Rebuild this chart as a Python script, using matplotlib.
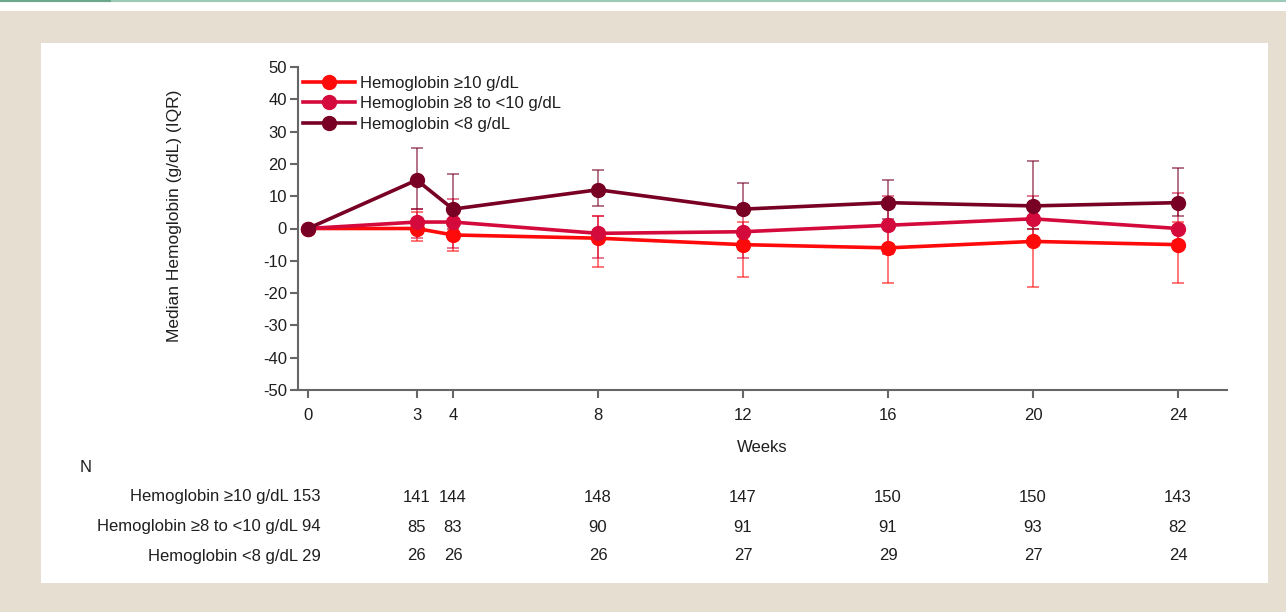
import matplotlib
matplotlib.use("Agg")
import matplotlib.pyplot as plt
import matplotlib.transforms as mtransforms
from matplotlib.patches import Rectangle
from matplotlib.lines import Line2D
import numpy as np

plt.rcParams['font.family'] = ['Liberation Sans', 'DejaVu Sans']

weeks = [0, 3, 4, 8, 12, 16, 20, 24]
series_labels = ["Hemoglobin \u226510 g/dL", "Hemoglobin \u22658 to <10 g/dL", "Hemoglobin <8 g/dL"]
colors = ["#ff0a0a", "#d40a3c", "#780024"]

med_hi = [0, 0, -2, -3, -5, -6, -4, -5]
lo_hi = [0, -4, -7, -12, -15, -17, -18, -17]
up_hi = [0, 5, 3, 4, 2, 2, 0, 2]

med_mid = [0, 2, 2, -1.5, -1, 1, 3, 0]
lo_mid = [0, -3, -6, -9, -9, -8, -3, -4]
up_mid = [0, 6, 9, 4, 7, 10, 10, 11]

med_lo = [0, 15, 6, 12, 6, 8, 7, 8]
lo_lo = [0, 6, 0, 7, 5, 3, 0, 4]
up_lo = [0, 25, 17, 18, 14, 15, 21, 18.6]

n_hi = [153, 141, 144, 148, 147, 150, 150, 143]
n_mid = [94, 85, 83, 90, 91, 91, 93, 82]
n_lo = [29, 26, 26, 26, 27, 29, 27, 24]

yticks = [50, 40, 30, 20, 10, 0, -10, -20, -30, -40, -50]

FS = 12
TXT = "#1e1e1e"

W, H = 1286, 612
fig = plt.figure(figsize=(W / 100, H / 100), dpi=100)
fig.patch.set_facecolor("#e5ded1")

# top white strip with green rule
fig.patches.append(Rectangle((0, (H - 11) / H), 1, 11 / H, transform=fig.transFigure,
                             facecolor="white", edgecolor="none", zorder=-10))
fig.add_artist(Line2D([0, 1], [1 - 1 / H, 1 - 1 / H], transform=fig.transFigure,
                      color="#9ccab6", lw=1.5, zorder=-9))
fig.add_artist(Line2D([0, 110 / W], [1 - 1 / H, 1 - 1 / H], transform=fig.transFigure,
                      color="#6aa88e", lw=1.5, zorder=-9))
# white panel
fig.patches.append(Rectangle((41 / W, (H - 583) / H), (1268 - 41) / W, (583 - 43) / H,
                             transform=fig.transFigure, facecolor="white",
                             edgecolor="none", zorder=-10))

ax = fig.add_axes([298 / W, 1 - 390 / H, (1227 - 298) / W, (390 - 67) / H])
ax.set_facecolor("none")

x0 = 308
pxw = (1178 - 308) / 24
ax.set_xlim((298 - x0) / pxw, (1227 - x0) / pxw)
ax.set_ylim(-50, 50)

all_series = [(med_hi, lo_hi, up_hi), (med_mid, lo_mid, up_mid), (med_lo, lo_lo, up_lo)]
handles = []
for (med, lo, up), col, lab in zip(all_series, colors, series_labels):
    med = np.array(med, dtype=float)
    lo = np.array(lo, dtype=float)
    up = np.array(up, dtype=float)
    yerr = np.vstack([med - lo, up - med])
    ax.errorbar(weeks[1:], med[1:], yerr=yerr[:, 1:], fmt="none", ecolor=col,
                alpha=0.55, elinewidth=1.4, capsize=4, capthick=1.4, zorder=2)
    h, = ax.plot(weeks, med, color=col, lw=2.6, marker="o", markersize=10,
                 markeredgecolor=col, label=lab, zorder=3)
    handles.append(h)

for s in ["top", "right"]:
    ax.spines[s].set_visible(False)
for s in ["left", "bottom"]:
    ax.spines[s].set_color("#666666")
    ax.spines[s].set_linewidth(1.5)

ax.set_yticks(yticks)
ax.set_yticklabels([str(v) for v in yticks])
ax.set_xticks(weeks)
ax.set_xticklabels([str(w) for w in weeks])
ax.tick_params(axis="both", colors="#666666", labelcolor=TXT, labelsize=FS,
               width=1.5, length=6)
ax.tick_params(axis="x", pad=7)
ax.tick_params(axis="y", pad=2)

ax.set_xlabel("Weeks", fontsize=FS, color=TXT, labelpad=12)
fig.text(174 / W, 1 - 216 / H, "Median Hemoglobin (g/dL) (IQR)", rotation=90,
         ha="center", va="center", fontsize=12.5, color=TXT)

leg = ax.legend(handles=handles, loc="upper left", bbox_to_anchor=(0.0054, 0.973),
                frameon=False, fontsize=FS, handlelength=3.1, handletextpad=0.3,
                labelspacing=0.33, borderaxespad=0.0, borderpad=0.0)
for t in leg.get_texts():
    t.set_color(TXT)

# N table
trans = mtransforms.blended_transform_factory(ax.transData, fig.transFigure)
fig.text(80 / W, 1 - 468 / H, "N", ha="left", va="center", fontsize=FS, color=TXT)
rows_y = [497, 527, 556]
for lab, ns, yy in zip(series_labels, [n_hi, n_mid, n_lo], rows_y):
    ax.text((321 - x0) / pxw, 1 - yy / H, f"{lab} {ns[0]}", transform=trans,
            ha="right", va="center", fontsize=FS, color=TXT, clip_on=False)
    for w, n in zip(weeks[1:], ns[1:]):
        ax.text(w, 1 - yy / H, str(n), transform=trans, ha="center", va="center",
                fontsize=FS, color=TXT, clip_on=False)

fig.savefig("out.png", dpi=100, facecolor=fig.get_facecolor())
